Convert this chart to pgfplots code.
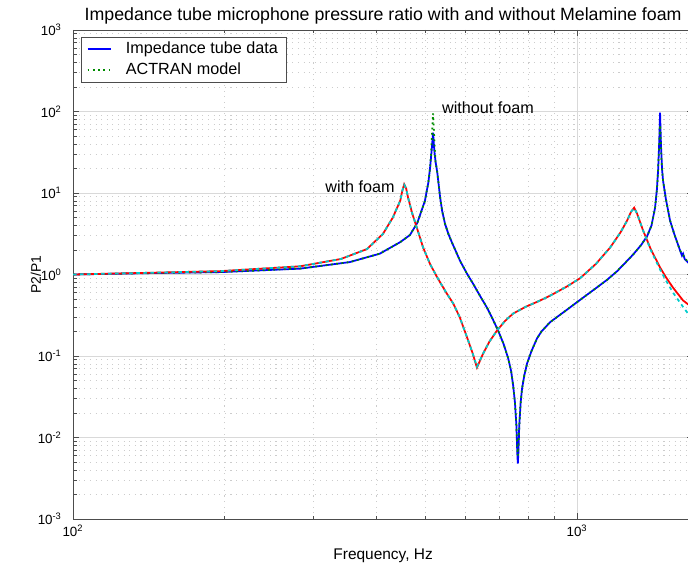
\documentclass[border=0pt]{standalone}
\usepackage{fontspec}
\setmainfont{Liberation Sans}
\usepackage{pgfplots}
\pgfplotsset{compat=1.18}
\definecolor{mblue}{rgb}{0,0,1}
\definecolor{mgreen}{rgb}{0,0.55,0}
\definecolor{mred}{rgb}{1,0,0}
\definecolor{mcyan}{rgb}{0,0.8,0.8}
\begin{document}
\begin{tikzpicture}
\useasboundingbox (0,0) rectangle (13.76cm,11.34cm);
\clip (0,0) rectangle (13.76cm,11.34cm);
\begin{axis}[
  at={(1.46cm,0.96cm)}, anchor=south west,
  scale only axis, width=12.404cm, height=9.78cm,
  xmode=log, ymode=log,
  xmin=100, xmax=1700, ymin=1e-3, ymax=1e3,
  xtick={100,1000},
  xticklabels={10\textsuperscript{2},10\textsuperscript{3}},
  ytick={0.001,0.01,0.1,1,10,100,1000},
  yticklabels={10\textsuperscript{-3},10\textsuperscript{-2},10\textsuperscript{-1},10\textsuperscript{0},10\textsuperscript{1},10\textsuperscript{2},10\textsuperscript{3}},
  minor xtick={200,300,400,500,600,700,800,900},
  minor ytick={0.002,0.003,0.004,0.005,0.006,0.007,0.008,0.009,0.02,0.03,0.04,0.05,0.06,0.07,0.08,0.09,0.2,0.3,0.4,0.5,0.6,0.7,0.8,0.9,2,3,4,5,6,7,8,9,20,30,40,50,60,70,80,90,200,300,400,500,600,700,800,900},
  grid=both,
  major grid style={gray!30, line width=0.4pt},
  minor grid style={gray!40, line width=0.4pt, dash pattern=on 0.6pt off 2.6pt},
  axis line style={gray!60!black, line width=0.5pt},
  tick style={gray!60!black, line width=0.4pt},
  major tick length=0.12cm, minor tick length=0.07cm,
  tick label style={font=\fontsize{7.6}{9}\selectfont},
  yticklabel style={xshift=-0.1cm},
  title={Impedance tube microphone pressure ratio with and without Melamine foam},
  title style={at={(axis description cs:0.5,1.0307)}, anchor=center, yshift=-6.8pt, font=\fontsize{10.1}{12}\selectfont},
  xlabel={Frequency, Hz},
  xlabel style={at={(axis description cs:0.5,-0.0757)}, anchor=center, font=\fontsize{8.8}{10}\selectfont},
  ylabel={P2/P1},
  ylabel style={at={(axis description cs:-0.0597,0.5)}, anchor=center, font=\fontsize{7.9}{9}\selectfont},
  legend style={at={(axis description cs:0.0129,0.9857)}, anchor=north west,
    draw=gray!60!black, fill=white, font=\fontsize{9.2}{10}\selectfont,
    inner xsep=3pt, inner ysep=0.5pt, row sep=0pt, cells={anchor=west}},
  legend image code/.code={\draw[#1] (0cm,0cm) -- (0.46cm,0cm); \path (0.68cm,0cm);},
]
\addplot[mblue, line width=1pt] coordinates {
(100,1.00) (142,1.04) (196,1.07) (282,1.18) (354,1.42) (406,1.80) (446,2.50)
(466,3.05) (482,4.3) (499,8.0) (507,13.5) (511,20.5) (515,35) (518,55)
(521,33) (524,24) (528,18) (535,8.8) (540,6.0) (547,4.2) (556,3.1) (565,2.45) (586,1.47)
(605,1.02) (622,0.77) (645,0.52) (663,0.39) (680,0.285) (697,0.206) (715,0.14) (730,0.094) (740,0.065) (747,0.043)
(753,0.027) (758,0.014) (761,0.0065) (763,0.0048) (765,0.0065) (768,0.014)
(773,0.027) (778,0.040) (786,0.058) (796,0.081) (812,0.115) (833,0.165)
(850,0.20) (884,0.26) (955,0.37) (1028,0.52) (1090,0.68) (1147,0.86)
(1201,1.10) (1250,1.42) (1291,1.75) (1340,2.3) (1377,2.95) (1405,4.0)
(1428,6.6) (1440,11) (1448,19) (1455,40) (1461,97) (1467,40) (1474,20)
(1481,14.2) (1500,8.5) (1529,4.6) (1560,3.1) (1601,1.97) (1615,1.70)
(1623,1.80) (1635,1.55) (1661,1.40) (1715,1.20)
};
\addlegendentry{Impedance tube data}
\addplot[mgreen, line width=1pt, dotted] coordinates {
(100,1.00) (142,1.04) (196,1.07) (282,1.18) (354,1.42) (406,1.80) (446,2.50)
(466,3.05) (482,4.3) (499,8.0) (507,13.5) (511,20.5) (514,35) (516,58) (518,95)
(520,58) (522,35) (524,24) (528,18) (535,8.8) (540,6.0) (547,4.2) (556,3.1) (565,2.45) (586,1.47)
(605,1.02) (622,0.77) (645,0.52) (663,0.39) (680,0.285) (697,0.206) (715,0.14) (730,0.094) (740,0.065) (747,0.043)
(753,0.027) (758,0.014) (761,0.0075) (763,0.0060) (765,0.0075) (768,0.014)
(773,0.027) (778,0.040) (786,0.058) (796,0.081) (812,0.115) (833,0.165)
(850,0.20) (884,0.26) (955,0.37) (1028,0.52) (1090,0.68) (1147,0.86)
(1201,1.10) (1250,1.42) (1291,1.75) (1340,2.3) (1377,2.95) (1405,4.0)
(1428,6.6) (1440,11) (1448,19) (1455,38) (1461,68) (1467,38) (1474,20)
(1481,14.2) (1500,8.5) (1529,4.6) (1560,3.1) (1601,1.97) (1661,1.40) (1715,1.20)
};
\addlegendentry{ACTRAN model}
\addplot[mred, line width=1pt, forget plot] coordinates {
(100,1.00) (142,1.05) (196,1.10) (282,1.26) (340,1.55) (383,2.05) (412,3.15)
(431,5.0) (446,8.1) (450,10.6) (454,12.8) (458,11.4) (462,8.8) (471,5.6)
(482,3.6) (495,2.14) (511,1.34) (528,0.92) (535,0.80) (550,0.60) (568,0.44) (585,0.30) (605,0.169)
(620,0.110) (633,0.072) (651,0.107) (670,0.15) (694,0.206) (720,0.27) (747,0.332) (790,0.40) (845,0.48)
(884,0.55) (950,0.70) (1014,0.90) (1090,1.35) (1163,2.14) (1220,3.3)
(1257,4.6) (1280,5.9) (1298,6.6) (1315,5.6) (1352,3.47) (1400,2.05)
(1461,1.22) (1500,0.93) (1550,0.69) (1623,0.48) (1661,0.43) (1715,0.38)
};
\addplot[mcyan, line width=1pt, dash pattern=on 2pt off 2pt, forget plot] coordinates {
(100,1.00) (142,1.05) (196,1.10) (282,1.26) (340,1.55) (383,2.05) (412,3.15)
(431,5.0) (446,8.1) (450,10.6) (454,12.6) (458,11.4) (462,8.8) (471,5.6)
(482,3.6) (495,2.14) (511,1.34) (528,0.92) (535,0.80) (550,0.60) (568,0.44) (585,0.30) (605,0.169)
(620,0.110) (633,0.074) (651,0.107) (670,0.15) (694,0.206) (720,0.27) (747,0.332) (790,0.40) (845,0.48)
(884,0.55) (950,0.70) (1014,0.90) (1090,1.35) (1163,2.14) (1220,3.3)
(1257,4.6) (1280,5.9) (1298,6.5) (1315,5.6) (1352,3.47) (1400,2.0)
(1461,1.15) (1500,0.85) (1550,0.60) (1623,0.40) (1661,0.33) (1715,0.27)
};
\node[anchor=east, font=\fontsize{9.2}{10}\selectfont] at (axis cs:447,12.0) {with foam};
\node[anchor=west, font=\fontsize{9.2}{10}\selectfont] at (axis cs:525,110) {without foam};
\end{axis}
\end{tikzpicture}
\end{document}
